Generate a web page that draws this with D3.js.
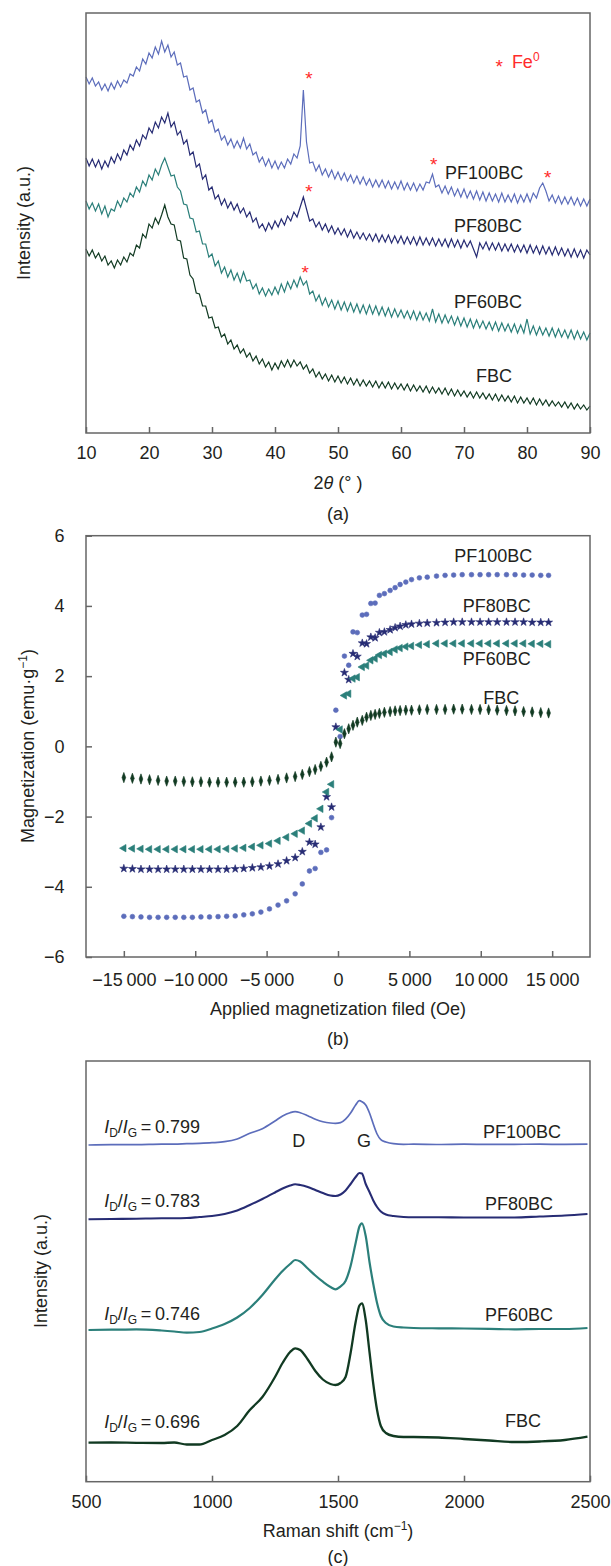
<!DOCTYPE html>
<html lang="en">
<head>
<meta charset="UTF-8">
<title>XRD, magnetization and Raman of biochars</title>
<script src="https://d3js.org/d3.v7.min.js"></script>
<style>
  body { margin: 0; background: #fff; }
  svg text { font-family: "Liberation Sans", Arial, sans-serif; fill: #231f20; }
  .frame { fill: none; stroke: #666; stroke-width: 1.5px; }
  .axis line { stroke: #666; stroke-width: 1.5px; }
  .axis text { font-size: 18px; }
  .lbl { font-size: 18px; }
  .star { font-size: 19px; fill: #ff2b2b; }
</style>
</head>
<body>
<svg width="611" height="1566"></svg>
<script>
// ---- data ----
const series = ["PF100BC", "PF80BC", "PF60BC", "FBC"];
const colors = ["#5c6dbb", "#272c74", "#2b7f7a", "#113a22"];

// (a) XRD, 2theta from 10 to 90 in 0.5 degree steps, intensity (a.u.)
const xrdAngle = d3.range(10, 90.001, 0.5);
const xrdPF100BC = [
  356, 349, 355, 347, 351, 343, 349, 342, 350, 344,
  352, 346, 353, 350, 359, 357, 366, 362, 374, 369,
  380, 375, 386, 379, 392, 381, 388, 376, 381, 368,
  370, 356, 357, 343, 345, 331, 333, 320, 323, 310,
  313, 301, 304, 293, 297, 288, 294, 285, 292, 285,
  295, 284, 289, 278, 281, 271, 276, 267, 274, 265,
  272, 264, 271, 265, 274, 269, 279, 275, 287, 343,
  291, 270, 271, 262, 268, 258, 264, 256, 263, 254,
  261, 253, 260, 252, 258, 250, 257, 249, 256, 248,
  254, 246, 253, 246, 253, 245, 252, 244, 251, 244,
  252, 243, 250, 243, 250, 242, 249, 243, 251, 250,
  259, 246, 248, 240, 247, 239, 246, 237, 244, 236,
  244, 235, 242, 234, 242, 233, 241, 232, 240, 232,
  239, 231, 240, 231, 238, 231, 239, 230, 238, 231,
  239, 231, 240, 235, 245, 250, 242, 232, 238, 230,
  237, 229, 236, 229, 236, 228, 235, 227, 234, 227,
  234];
const xrdPF80BC = [
  275, 267, 274, 266, 273, 264, 272, 266, 276, 270,
  279, 273, 283, 278, 288, 283, 293, 287, 298, 294,
  305, 300, 311, 305, 316, 310, 320, 306, 311, 298,
  302, 289, 293, 278, 281, 266, 269, 254, 258, 243,
  246, 234, 238, 228, 234, 225, 231, 223, 229, 220,
  225, 216, 221, 211, 215, 205, 209, 202, 210, 204,
  212, 206, 214, 208, 217, 212, 221, 216, 226, 236,
  224, 212, 214, 206, 211, 203, 209, 201, 207, 199,
  205, 198, 204, 196, 203, 195, 201, 194, 200, 193,
  199, 192, 199, 191, 198, 191, 198, 190, 197, 190,
  197, 189, 196, 189, 196, 188, 196, 188, 195, 188,
  195, 187, 194, 187, 194, 186, 194, 186, 193, 185,
  193, 186, 192, 184, 176, 190, 184, 191, 183, 190,
  183, 190, 182, 189, 182, 189, 181, 188, 181, 188,
  180, 188, 180, 187, 179, 187, 179, 186, 178, 186,
  178, 185, 177, 184, 176, 184, 176, 183, 175, 183,
  178];
const xrdPF60BC = [
  232, 224, 230, 222, 229, 219, 227, 216, 224, 222,
  232, 226, 235, 231, 240, 236, 246, 241, 252, 247,
  258, 253, 264, 258, 268, 275, 266, 257, 258, 246,
  242, 229, 228, 215, 214, 201, 202, 189, 189, 176,
  179, 167, 172, 160, 166, 156, 163, 153, 160, 151,
  161, 152, 153, 144, 149, 139, 145, 137, 144, 138,
  146, 139, 149, 141, 151, 144, 153, 146, 156, 148,
  152, 139, 142, 132, 138, 128, 135, 126, 133, 124,
  132, 123, 131, 122, 130, 121, 129, 120, 128, 119,
  128, 119, 127, 118, 126, 117, 125, 116, 124, 116,
  123, 115, 122, 114, 122, 113, 121, 113, 120, 112,
  124, 111, 119, 110, 118, 110, 117, 108, 116, 107,
  115, 106, 114, 105, 113, 105, 112, 104, 111, 103,
  111, 102, 110, 102, 109, 101, 109, 100, 108, 100,
  114,  99, 107,  98, 106,  98, 105,  97, 105,  96,
  104,  96, 103,  95, 103,  94, 102,  94, 101,  93,
  100];
const xrdFBC = [
  184, 177, 183, 175, 180, 172, 177, 168, 172, 165,
  173, 168, 176, 171, 180, 177, 188, 185, 199, 195,
  209, 205, 215, 209, 218, 228, 216, 209, 208, 193,
  192, 175, 174, 158, 154, 140, 139, 127, 127, 115,
  116, 105, 106,  96,  99,  89,  93,  84,  88,  80,
   84,  76,  80,  72,  77,  69,  74,  66,  71,  63,
   70,  64,  72,  66,  73,  66,  73,  67,  71,  64,
   68,  60,  64,  56,  61,  54,  59,  52,  58,  51,
   57,  50,  56,  49,  55,  48,  54,  47,  53,  47,
   52,  46,  52,  45,  51,  45,  51,  44,  50,  44,
   49,  43,  49,  42,  48,  42,  47,  41,  47,  40,
   46,  40,  45,  39,  45,  38,  44,  37,  43,  37,
   42,  36,  41,  35,  41,  35,  40,  34,  39,  33,
   39,  32,  38,  32,  37,  31,  37,  30,  36,  30,
   35,  29,  35,  28,  34,  28,  33,  27,  32,  27,
   31,  26,  31,  25,  30,  24,  29,  24,  28,  23,
   27];
const xrdTicks = [10, 20, 30, 40, 50, 60, 70, 80, 90];
// Fe0 reflections marked with * : [2theta, intensity]
const fePeaks = [[45.4, 359], [65.2, 273], [83.3, 260], [45.4, 246], [44.8, 165]];

// (b) magnetization, field in Oe, magnetization in emu/g
const fieldOe = [
  -15000, -14400, -13800, -13200, -12600, -12000, -11400, -10800, -10200, -9600,
  -9000, -8400, -7800, -7200, -6600, -6000, -5400, -4800, -4200, -3600,
  -3000, -2500, -2000, -1600, -1200, -800, -450, -150, 150, 450,
  750, 1050, 1350, 1700, 2000, 2300, 2600, 2900, 3250, 3650,
  4000, 4350, 4750, 5150, 5700, 6250, 6900, 7500, 8100, 8700,
  9350, 9950, 10550, 11150, 11800, 12400, 13000, 13600, 14200, 14750];
const magPF100BC = [
  -4.84, -4.85, -4.86, -4.87, -4.87, -4.87, -4.87, -4.87, -4.87, -4.86,
  -4.86, -4.85, -4.84, -4.83, -4.80, -4.77, -4.72, -4.63, -4.52, -4.40,
  -4.20, -3.92, -3.55, -3.48, -3.02, -2.95, -2.03, 1.03, 0.28, 2.57,
  2.31, 3.26, 3.24, 3.74, 3.76, 4.07, 4.08, 4.30, 4.35, 4.44,
  4.52, 4.61, 4.68, 4.75, 4.80, 4.82, 4.85, 4.87, 4.88, 4.89,
  4.89, 4.89, 4.89, 4.89, 4.89, 4.89, 4.88, 4.88, 4.87, 4.87];
const magPF80BC = [
  -3.48, -3.49, -3.50, -3.50, -3.50, -3.50, -3.50, -3.50, -3.50, -3.50,
  -3.50, -3.50, -3.50, -3.49, -3.48, -3.46, -3.44, -3.41, -3.35, -3.26,
  -3.17, -3.00, -2.73, -2.79, -2.30, -1.44, -1.73, 0.55, null, 2.10,
  1.90, 2.64, 2.56, 2.94, 2.92, 3.11, 3.09, 3.24, 3.26, 3.32,
  3.38, 3.42, 3.46, 3.48, 3.50, 3.51, 3.52, 3.53, 3.54, 3.54,
  3.54, 3.54, 3.54, 3.54, 3.54, 3.54, 3.54, 3.53, 3.53, 3.53];
const magPF60BC = [
  -2.90, -2.91, -2.92, -2.93, -2.93, -2.93, -2.93, -2.93, -2.93, -2.93,
  -2.93, -2.93, -2.92, -2.91, -2.89, -2.86, -2.82, -2.77, -2.69, -2.59,
  -2.49, -2.40, -2.20, -2.05, -1.78, -1.30, -1.08, null, 0.48, 1.45,
  1.50, 1.93, 1.97, 2.26, 2.30, 2.45, 2.50, 2.60, 2.64, 2.69,
  2.76, 2.80, 2.84, 2.86, 2.89, 2.91, 2.93, 2.93, 2.93, 2.93,
  2.93, 2.93, 2.93, 2.93, 2.93, 2.93, 2.93, 2.92, 2.92, 2.91];
const magFBC = [
  -0.89, -0.91, -0.93, -0.95, -0.97, -0.99, -0.99, -1.00, -1.01, -1.01,
  -1.02, -1.02, -1.02, -1.02, -1.02, -1.01, -0.99, -0.97, -0.94, -0.90,
  -0.86, -0.80, -0.72, -0.66, -0.57, -0.45, -0.30, 0.12, 0.08, 0.36,
  0.50, 0.60, 0.69, 0.74, 0.83, 0.88, 0.91, 0.94, 0.97, 0.99,
  1.01, 1.02, 1.03, 1.03, 1.04, 1.05, 1.05, 1.05, 1.06, 1.06,
  1.05, 1.05, 1.04, 1.03, 1.02, 1.01, 0.99, 0.98, 0.96, 0.95];
const fieldTicks = [-15000, -10000, -5000, 0, 5000, 10000, 15000];
const magTicks = [-6, -4, -2, 0, 2, 4, 6];

// (c) Raman, shift in cm-1, intensity (a.u.)
const ramanShift = [
  510, 600, 700, 800, 850, 900, 950, 1000, 1050, 1100,
  1150, 1200, 1250, 1280, 1310, 1330, 1350, 1380, 1410, 1440,
  1470, 1490, 1510, 1530, 1550, 1570, 1585, 1595, 1610, 1625,
  1640, 1655, 1670, 1690, 1720, 1760, 1800, 1900, 2000, 2100,
  2200, 2300, 2400, 2490];
const ramPF100BC = [
  336.7, 337, 337, 337.5, 337.5, 338, 338.4, 339, 340, 342.7,
  348.4, 353, 360.7, 365.7, 369, 370, 369, 366, 362.5, 360,
  358.7, 358.4, 359, 362.5, 368.7, 376.7, 381, 380, 376.7, 368.7,
  357.7, 347.7, 342, 339.7, 338, 337.4, 337.5, 337.2, 337.5, 337.3,
  337.4, 337.5, 337.3, 337.5];
const ramPF80BC = [
  262.4, 262.7, 263, 263.4, 263.4, 263.7, 264.7, 265.7, 267.7, 271.2,
  276.7, 282.7, 289.2, 293.2, 296.2, 297.4, 296.7, 294.7, 291.7, 288.7,
  286.2, 285.7, 287.2, 291.2, 297.7, 304.7, 308.7, 308.2, 297.7, 289.7,
  281.2, 274.7, 270.2, 267.2, 265.7, 264.7, 264.4, 264.4, 264.2, 264.2,
  264.2, 265.2, 266.2, 267.7];
const ramPF60BC = [
  151.7, 152, 152.4, 151.2, 150.2, 149, 149.7, 153.2, 157.7, 164.2,
  173.7, 186.7, 202.2, 210.7, 217.7, 221.7, 220.2, 213.2, 206.2, 200,
  194.7, 192.4, 195.2, 200.7, 215.7, 238.7, 255.2, 258.4, 245.7, 219.7,
  197.7, 178.7, 165.7, 158.7, 155.2, 154.2, 153.7, 153.4, 153.2, 152.9,
  152.4, 152.7, 152.7, 153.7];
const ramFBC = [
  39, 39.2, 38.9, 38.7, 39.2, 37.2, 37.2, 41.7, 46.7, 55.7,
  71.7, 84.7, 104.7, 118.7, 129.7, 133.4, 131.7, 122.2, 110.7, 102.2,
  97.7, 96.7, 98.7, 104.7, 128.7, 159.7, 176.2, 178.4, 161.7, 129.7,
  97.7, 71.7, 55.7, 48.7, 45.7, 44.7, 44.7, 44.2, 42.7, 41.2,
  39.7, 40.2, 41.7, 45];
const ramanTicks = [500, 1000, 1500, 2000, 2500];
const idIg = ["0.799", "0.783", "0.746", "0.696"];

const svg = d3.select("svg");
const minus = s => String(s).replace("-", "\u2212");

function frame(x, y) {
  svg.append("rect").attr("class", "frame")
    .attr("x", x.range()[0]).attr("y", y.range()[1])
    .attr("width", x.range()[1] - x.range()[0])
    .attr("height", y.range()[0] - y.range()[1]);
}
function bottomAxis(x, y, ticks, pad, fmt) {
  svg.append("g").attr("class", "axis")
    .attr("transform", `translate(0,${y.range()[0]})`)
    .call(d3.axisBottom(x).tickValues(ticks).tickSize(-6).tickPadding(pad).tickFormat(fmt))
    .call(g => g.select(".domain").remove());
}
function yTitle(x, y, parts) {
  const t = svg.append("text").attr("class", "lbl").attr("text-anchor", "middle")
    .attr("transform", `translate(${x},${y}) rotate(-90)`).attr("dy", "0.35em");
  parts(t);
}
function caption(x, y, s) {
  svg.append("text").attr("class", "lbl").attr("text-anchor", "middle")
    .attr("x", x).attr("y", y).text(s);
}

// ---------- (a) XRD ----------
const xA = d3.scaleLinear().domain([10, 90]).range([86, 590]);
const yA = d3.scaleLinear().domain([0, 420]).range([433, 13]);
const xrd = [xrdPF100BC, xrdPF80BC, xrdPF60BC, xrdFBC];
const lineA = d3.line().x((d, i) => xA(xrdAngle[i])).y(d => yA(d));
xrd.forEach((vals, k) => {
  svg.append("path").datum(vals)
    .attr("fill", "none").attr("stroke", colors[k]).attr("stroke-width", 1.2)
    .attr("stroke-linejoin", "miter").attr("d", lineA);
});
frame(xA, yA);
bottomAxis(xA, yA, xrdTicks, 13.7, d3.format("d"));

svg.selectAll(".feStar").data(fePeaks).join("text")
  .attr("class", "star").attr("text-anchor", "middle")
  .attr("x", d => xA(d[0])).attr("y", d => yA(d[1])).attr("dy", "0.57em").text("*");

// legend  * Fe0
svg.append("text").attr("class", "star").attr("text-anchor", "middle")
  .attr("x", xA(75.6)).attr("y", yA(371)).attr("dy", "0.57em").text("*");
const fe = svg.append("text").attr("class", "lbl").style("fill", "#ff2b2b")
  .attr("x", xA(77.6)).attr("y", yA(365)).text("Fe");
fe.append("tspan").attr("dy", -7).style("font-size", "12px").style("fill", "#ff2b2b").text("0");

const labA = [[67.0, 254.5], [68.4, 201], [68.4, 125.5], [71.9, 51]];
series.forEach((s, k) => {
  svg.append("text").attr("class", "lbl")
    .attr("x", xA(labA[k][0])).attr("y", yA(labA[k][1])).text(s);
});

yTitle(23.5, 223, t => t.text("Intensity (a.u.)"));
const tA = svg.append("text").attr("class", "lbl").attr("text-anchor", "middle")
  .attr("x", 338).attr("y", 488.5);
tA.append("tspan").text("2");
tA.append("tspan").style("font-style", "italic").text("\u03b8");
tA.append("tspan").text(" (\u00b0 )");
caption(338, 519.5, "(a)");

// ---------- (b) magnetization ----------
const xB = d3.scaleLinear().domain([-17650, 17650]).range([86, 590]);
const yB = d3.scaleLinear().domain([-6, 6]).range([957, 535.7]);
const mags = [magPF100BC, magPF80BC, magPF60BC, magFBC];
const symbols = [
  { type: d3.symbolCircle, size: 18, tf: "" },
  { type: d3.symbolStar, size: 20, tf: "" },
  { type: d3.symbolTriangle, size: 24, tf: " rotate(-90)" },
  { type: d3.symbolDiamond, size: 18, tf: " scale(0.8,1.3)" }
];
mags.forEach((vals, k) => {
  const pts = fieldOe.map((h, i) => [h, vals[i]]).filter(p => p[1] !== null);
  const sym = d3.symbol().type(symbols[k].type).size(symbols[k].size);
  svg.append("g").selectAll("path").data(pts).join("path")
    .attr("d", sym)
    .attr("fill", colors[k]).attr("stroke", colors[k]).attr("stroke-width", 0.6)
    .attr("transform", d => `translate(${xB(d[0])},${yB(d[1])})${symbols[k].tf}`);
});
frame(xB, yB);
const fmtField = d => d === 0 ? "0" :
  (d < 0 ? "\u2212" : "") + d3.format(",")(Math.abs(d)).replace(",", "\u2009");
bottomAxis(xB, yB, fieldTicks, 16.2, fmtField);
svg.append("g").attr("class", "axis")
  .attr("transform", `translate(${xB.range()[0]},0)`)
  .call(d3.axisLeft(yB).tickValues(magTicks).tickSize(-6).tickPadding(21.5).tickFormat(minus))
  .call(g => g.select(".domain").remove());

const labB = [[10874, 5.24], [11119, 3.83], [11119, 2.32], [11434, 1.22]];
series.forEach((s, k) => {
  svg.append("text").attr("class", "lbl").attr("text-anchor", "middle")
    .attr("x", xB(labB[k][0])).attr("y", yB(labB[k][1])).text(s);
});

yTitle(28, 746, t => {
  t.append("tspan").text("Magnetization (emu\u00b7g");
  t.append("tspan").attr("dy", -7).style("font-size", "12px").text("\u22121");
  t.append("tspan").attr("dy", 7).text(")");
});
svg.append("text").attr("class", "lbl").attr("text-anchor", "middle")
  .attr("x", 338).attr("y", 1014.5).text("Applied magnetization filed (Oe)");
caption(338, 1044.5, "(b)");

// ---------- (c) Raman ----------
const xC = d3.scaleLinear().domain([500, 2500]).range([86, 590]);
const yC = d3.scaleLinear().domain([0, 420.7]).range([1481.7, 1061]);
const rams = [ramPF100BC, ramPF80BC, ramPF60BC, ramFBC];
const widths = [1.7, 2.1, 2.2, 2.3];
const lineC = d3.line().x((d, i) => xC(ramanShift[i])).y(d => yC(d)).curve(d3.curveMonotoneX);
rams.forEach((vals, k) => {
  svg.append("path").datum(vals)
    .attr("fill", "none").attr("stroke", colors[k]).attr("stroke-width", widths[k])
    .attr("d", lineC);
});
frame(xC, yC);
bottomAxis(xC, yC, ramanTicks, 13.5, d3.format("d"));

const ratioY = [348.7, 275.2, 161.7, 53.7];
idIg.forEach((v, k) => {
  const t = svg.append("text").attr("class", "lbl").attr("x", xC(572)).attr("y", yC(ratioY[k]));
  t.append("tspan").style("font-style", "italic").text("I");
  t.append("tspan").attr("dy", 4).style("font-size", "12px").text("D");
  t.append("tspan").attr("dy", -4).text("/");
  t.append("tspan").style("font-style", "italic").text("I");
  t.append("tspan").attr("dy", 4).style("font-size", "12px").text("G");
  t.append("tspan").attr("dy", -4).text("\u2009=\u2009" + v);
});
const labC = [[2230, 343.7], [2218, 272.2], [2218, 161.2], [2234, 55.2]];
series.forEach((s, k) => {
  svg.append("text").attr("class", "lbl").attr("text-anchor", "middle")
    .attr("x", xC(labC[k][0])).attr("y", yC(labC[k][1])).text(s);
});
svg.append("text").attr("class", "lbl").attr("text-anchor", "middle")
  .attr("x", xC(1344)).attr("y", yC(335.2)).text("D");
svg.append("text").attr("class", "lbl").attr("text-anchor", "middle")
  .attr("x", xC(1603)).attr("y", yC(335.2)).text("G");

yTitle(41, 1271, t => t.text("Intensity (a.u.)"));
const tC = svg.append("text").attr("class", "lbl").attr("text-anchor", "middle")
  .attr("x", 338).attr("y", 1536.5);
tC.append("tspan").text("Raman shift (cm");
tC.append("tspan").attr("dy", -7).style("font-size", "12px").text("\u22121");
tC.append("tspan").attr("dy", 7).text(")");
caption(338, 1563, "(c)");
</script>
</body>
</html>
